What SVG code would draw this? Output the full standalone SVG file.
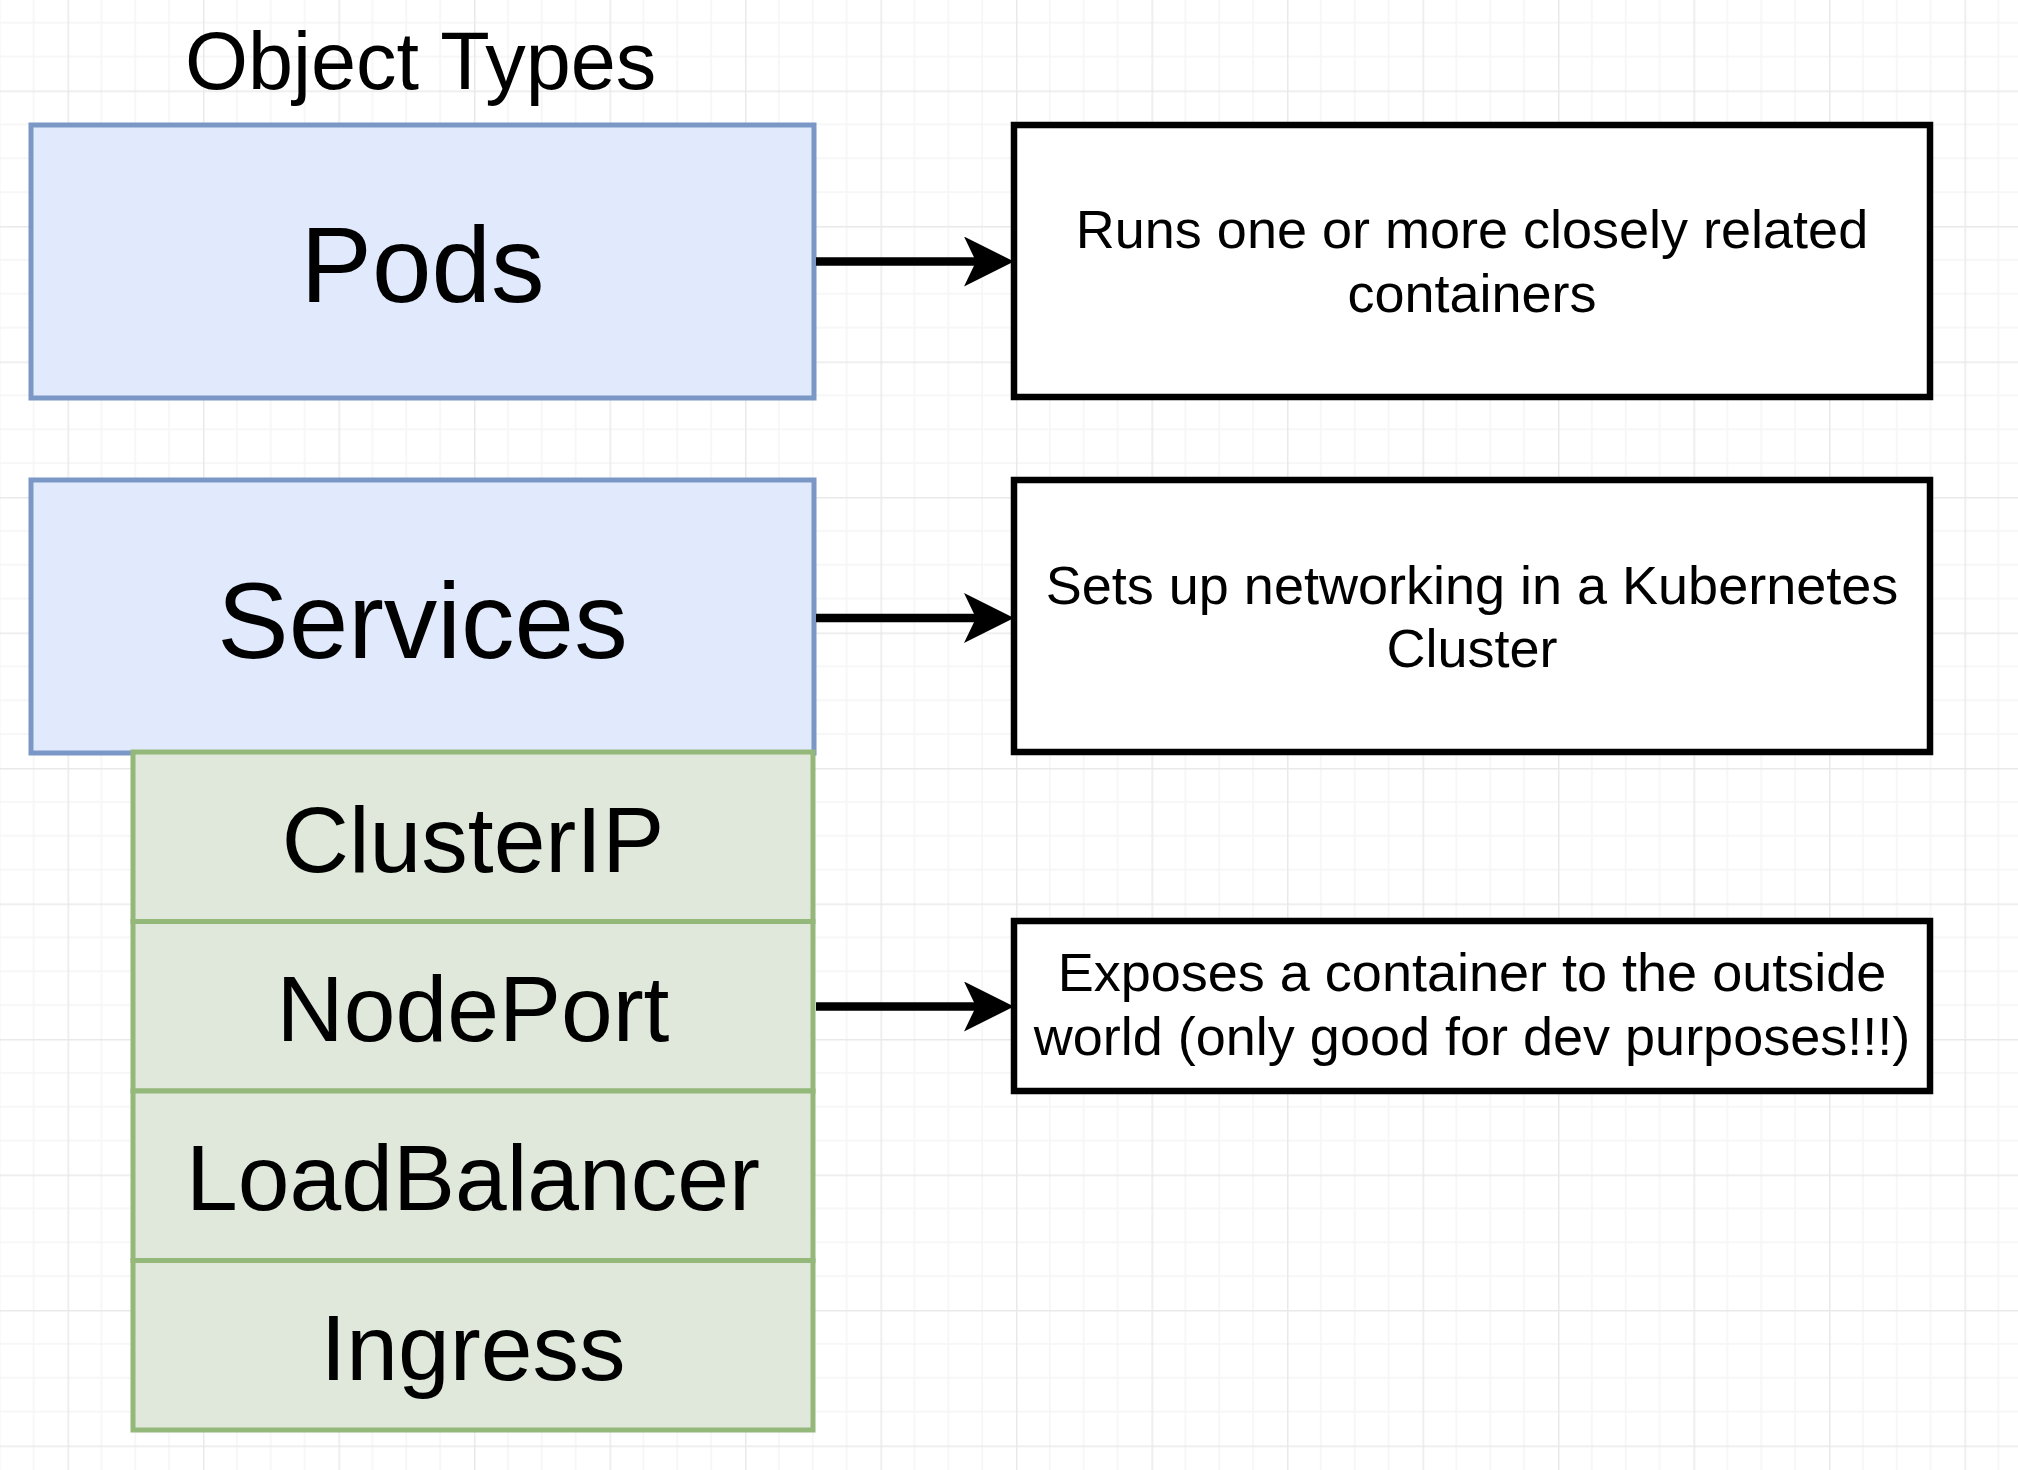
<svg xmlns="http://www.w3.org/2000/svg" width="2018" height="1470" viewBox="0 0 2018 1470">
  <defs>
    <!-- canvas grid: minor every 33.875px, major every 135.5px -->
    <pattern id="grid" patternUnits="userSpaceOnUse" x="67.5" y="90.5" width="135.5" height="135.5">
      <g stroke="#f5f5f5" stroke-width="1.5" fill="none">
        <path d="M33.875,0 V135.5 M67.75,0 V135.5 M101.625,0 V135.5"/>
        <path d="M0,33.875 H135.5 M0,67.75 H135.5 M0,101.625 H135.5"/>
      </g>
      <g stroke="#e9e9e9" stroke-width="1.5" fill="none">
        <path d="M0.75,0 V135.5 M0,0.75 H135.5"/>
      </g>
    </pattern>
    <marker id="arrow" viewBox="0 0 50 50" markerWidth="50" markerHeight="50" refX="30" refY="25" markerUnits="userSpaceOnUse" orient="auto">
      <path d="M0,0 L50,25 L0,50 L12,25 Z" fill="#000"/>
    </marker>
  </defs>
  <style>
    .title { font-family: "Liberation Sans", Arial, sans-serif; font-size: 81px; fill: #000; }
    .kind { fill: #e0eafc; stroke: #7a97c6; stroke-width: 5; }
    .kind-label { font-family: "Liberation Sans", Arial, sans-serif; font-size: 107px; fill: #000; text-anchor: middle; }
    .svc { fill: #dfe8da; stroke: #93b87a; stroke-width: 5; }
    .svc-label { font-family: "Liberation Sans", Arial, sans-serif; font-size: 93px; fill: #000; text-anchor: middle; }
    .note { fill: #ffffff; stroke: #000; stroke-width: 6.5; }
    .note-label { font-family: "Liberation Sans", Arial, sans-serif; font-size: 54px; fill: #000; text-anchor: middle; }
    .link { stroke: #000; stroke-width: 8.5; fill: none; marker-end: url(#arrow); }
  </style>

  <rect x="0" y="0" width="2018" height="1470" fill="#ffffff"/>
  <rect x="0" y="0" width="2018" height="1470" fill="url(#grid)"/>

  <text class="title" x="185" y="89">Object Types</text>

  <g id="pods">
    <rect class="kind" x="31" y="125" width="783" height="273"/>
    <text class="kind-label" x="422.5" y="302">Pods</text>
  </g>

  <g id="services">
    <rect class="kind" x="31" y="480" width="783" height="273"/>
    <text class="kind-label" x="422.5" y="658">Services</text>
  </g>

  <g id="clusterip">
    <rect class="svc" x="133" y="752" width="680" height="169.5"/>
    <text class="svc-label" x="473" y="872">ClusterIP</text>
  </g>

  <g id="nodeport">
    <rect class="svc" x="133" y="921.5" width="680" height="169.5"/>
    <text class="svc-label" x="473" y="1041">NodePort</text>
  </g>

  <g id="loadbalancer">
    <rect class="svc" x="133" y="1091" width="680" height="169.5"/>
    <text class="svc-label" x="473" y="1210">LoadBalancer</text>
  </g>

  <g id="ingress">
    <rect class="svc" x="133" y="1260.5" width="680" height="169.5"/>
    <text class="svc-label" x="473" y="1380">Ingress</text>
  </g>

  <g id="pods-note">
    <rect class="note" x="1014" y="125" width="916" height="272"/>
    <text class="note-label" x="1472" y="248">Runs one or more closely related</text>
    <text class="note-label" x="1472" y="312">containers</text>
  </g>

  <g id="services-note">
    <rect class="note" x="1014" y="480" width="916" height="272"/>
    <text class="note-label" x="1472" y="604">Sets up networking in a Kubernetes</text>
    <text class="note-label" x="1472" y="667">Cluster</text>
  </g>

  <g id="nodeport-note">
    <rect class="note" x="1014" y="921" width="916" height="170"/>
    <text class="note-label" x="1472" y="991">Exposes a container to the outside</text>
    <text class="note-label" x="1472" y="1055">world (only good for dev purposes!!!)</text>
  </g>

  <g id="connectors">
    <path class="link" d="M816,261.5 H994"/>
    <path class="link" d="M816,618 H994"/>
    <path class="link" d="M816,1006.5 H994"/>
  </g>
</svg>
